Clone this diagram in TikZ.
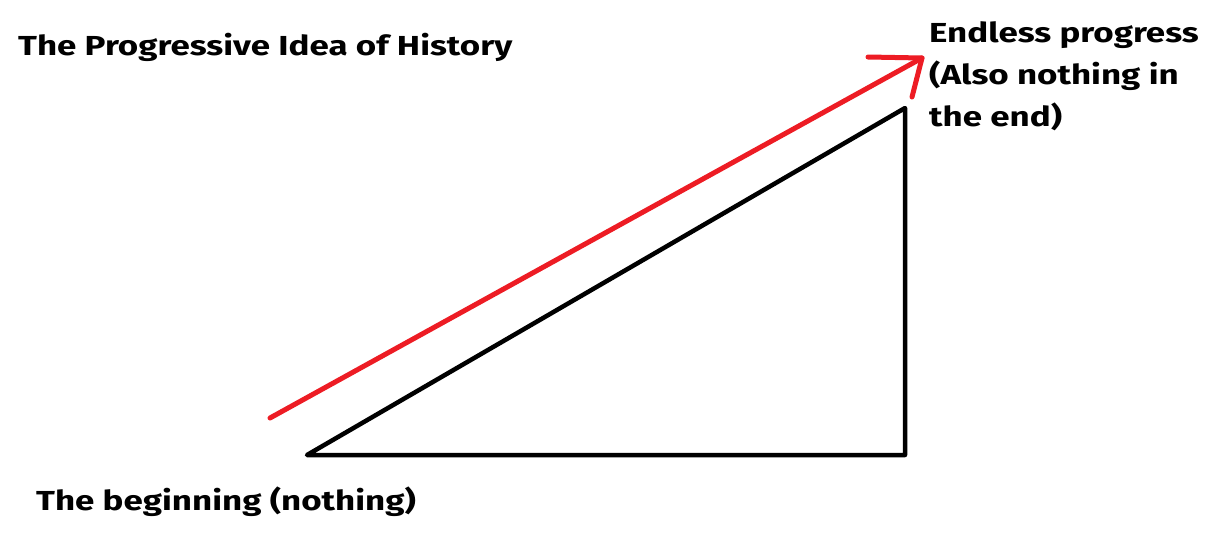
\documentclass[tikz,border=0pt]{standalone}
\usepackage{fontspec}
\setmainfont{Fira Sans}[FakeStretch=1.27]
\definecolor{pred}{RGB}{237,28,36}
\begin{document}
\begin{tikzpicture}[x=1pt,y=-1pt,
  lbl/.style={font=\fontsize{27.5}{42}\selectfont\bfseries, inner sep=0pt, align=left},
  blk/.style={line width=4.5pt, black, line join=round, line cap=round},
  redl/.style={line width=5pt, pred, line cap=round, line join=round}]
\useasboundingbox (0,0) rectangle (1217,555);
\coordinate (A) at (307,455);
\coordinate (B) at (905,108);
\coordinate (C) at (905,455);
\draw[blk] (A) -- (B) -- (C) -- cycle;
\coordinate (rs) at (270,418);
\coordinate (rt) at (922,58);
\coordinate (h1) at (868,57);
\coordinate (h2) at (912,97);
\draw[redl] (rs) -- (rt);
\draw[redl] (h1) -- (rt) -- (h2);
\node[lbl, anchor=west] (title) at (18,47) {The Progressive Idea of History};
\node[lbl, anchor=north west] (end) at (929,21) {Endless progress\\(Also nothing in\\the end)};
\node[lbl, anchor=west] (beg) at (36,502) {The beginning (nothing)};
\end{tikzpicture}
\end{document}
